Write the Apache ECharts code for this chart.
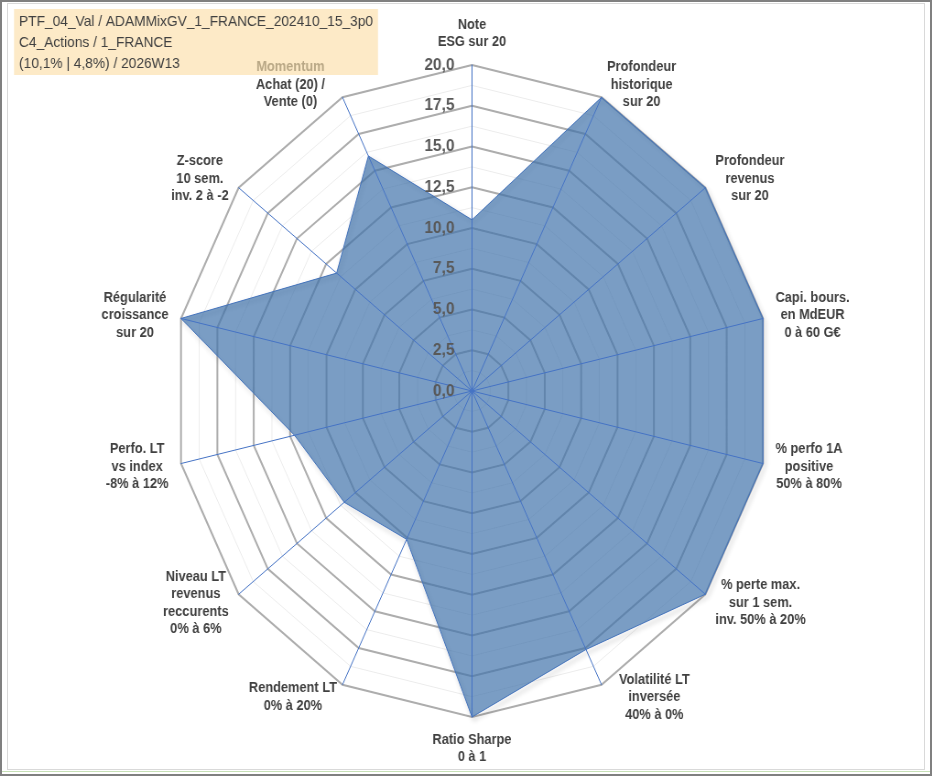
<!DOCTYPE html>
<html lang="fr">
<head>
<meta charset="utf-8">
<title>Radar PTF_04_Val</title>
<script src="https://cdn.jsdelivr.net/npm/echarts@6/dist/echarts.min.js"></script>
<style>
  html, body { margin: 0; padding: 0; background: #fff; }
  #frame { position: relative; width: 932px; height: 776px; overflow: hidden; background: #fff; }
  #chart { position: absolute; left: 0; top: 0; height: 776px; transform-origin: 0 0; }
  .inner { position: absolute; left: 7px; top: 3px; width: 918px; height: 767px; box-sizing: border-box; border: 1px solid #d9d9d9; pointer-events: none; }
  .green { position: absolute; left: 0; top: 771px; width: 932px; height: 1px; background: #c6dfb6; }
  .outer { position: absolute; left: 0; top: 0; width: 932px; height: 776px; box-sizing: border-box; border: 2px solid #808080; pointer-events: none; }
</style>
</head>
<body>
<div id="frame">
  <div id="chart"></div>
  <div class="inner"></div>
  <div class="green"></div>
  <div class="outer"></div>
</div>
<script>
// axes in the order they appear, clockwise from the top
const axisNames = [
  'Note\nESG sur 20',
  'Profondeur\nhistorique\nsur 20',
  'Profondeur\nrevenus\nsur 20',
  'Capi. bours.\nen MdEUR\n0 à 60 G€',
  '% perfo 1A\npositive\n50% à 80%',
  '% perte max.\nsur 1 sem.\ninv. 50% à 20%',
  'Volatilité LT\ninversée\n40% à 0%',
  'Ratio Sharpe\n0 à 1',
  'Rendement LT\n0% à 20%',
  'Niveau LT\nrevenus\nreccurents\n0% à 6%',
  'Perfo. LT\nvs index\n-8% à 12%',
  'Régularité\ncroissance\nsur 20',
  'Z-score\n10 sem.\ninv. 2 à -2',
  'Momentum\nAchat (20) /\nVente (0)'
];
const scores = [10.5, 20, 20, 20, 20, 20, 17.6, 20, 10.1, 10.95, 12.2, 20, 11.6, 16];
const axisMax = 20;
const titleLines = [
  'PTF_04_Val / ADAMMixGV_1_FRANCE_202410_15_3p0',
  'C4_Actions / 1_FRANCE',
  '(10,1% | 4,8%) / 2026W13'
];

// the source plot is an ellipse: draw a circle and squeeze it horizontally
const SCALE_X = 298.5 / 326;
const FONT = '"Liberation Sans", Arial, sans-serif';
const cx = 472 / SCALE_X;

// extra horizontal push for a few names (index in axisNames -> padding)
const namePadding = { 6: [0, 0, 0, 13], 13: [0, 13, 0, 0] };

const el = document.getElementById('chart');
el.style.width = Math.round(932 / SCALE_X) + 'px';
el.style.transform = 'scaleX(' + SCALE_X + ')';

// echarts radar runs counter-clockwise, so reverse everything after the first axis
const order = [0].concat(axisNames.map((_, i) => i).slice(1).reverse());

const majorIndicators = order.map((i, k) => {
  const ind = { name: axisNames[i], min: 0, max: axisMax };
  if (k === 0) ind.axisLabel = { show: true };
  if (namePadding[i]) ind.nameTextStyle = { padding: namePadding[i] };
  return ind;
});
const minorIndicators = order.map(() => ({ name: '', min: 0, max: axisMax }));

const nameStyle = {
  fontFamily: FONT, fontSize: 14, fontWeight: 'bold', lineHeight: 17.5, align: 'center'
};

const chart = echarts.init(el, null, { renderer: 'canvas' });
chart.setOption({
  animation: false,
  backgroundColor: 'transparent',
  title: {
    z: 0,
    text: titleLines.join('\n'),
    left: 14 / SCALE_X,
    top: 9,
    padding: [2, 0, 1, 5.5],
    backgroundColor: '#fdeac7',
    textStyle: {
      fontFamily: FONT, fontSize: 15, fontWeight: 'normal', color: '#404040',
      lineHeight: 21, width: 392
    }
  },
  radar: [
    {
      // fine grid every 1,25
      z: 2,
      center: [cx, 391],
      radius: 326,
      startAngle: 90,
      shape: 'polygon',
      splitNumber: 16,
      indicator: minorIndicators,
      axisName: { show: false },
      axisLine: { show: false },
      axisTick: { show: false },
      axisLabel: { show: false },
      splitArea: { show: false },
      splitLine: { lineStyle: { color: '#ececec', width: 1 } }
    },
    {
      z: 2,
      center: [cx, 391],
      radius: 326,
      startAngle: 90,
      shape: 'polygon',
      splitNumber: 8,
      nameGap: 14,
      indicator: majorIndicators,
      axisName: {
        color: '#404040',
        fontFamily: FONT,
        fontSize: 14,
        fontWeight: 'bold',
        lineHeight: 17.5,
        formatter: name => name.split('\n')
          .map(l => (l === 'Momentum' ? '{m|' : '{c|') + l + '}')
          .join('\n'),
        rich: {
          c: Object.assign({ color: '#404040' }, nameStyle),
          m: Object.assign({ color: '#b9a886' }, nameStyle)
        }
      },
      axisLine: { lineStyle: { color: '#4472c4', width: 1 } },
      axisTick: { show: false },
      axisLabel: {
        show: false,
        color: '#595959',
        fontFamily: FONT,
        fontSize: 17,
        fontWeight: 'bold',
        margin: 19,
        formatter: v => Number(v).toFixed(1).replace('.', ',')
      },
      splitArea: { show: false },
      splitLine: { lineStyle: { color: '#adadad', width: 2 } }
    }
  ],
  series: [{
    type: 'radar',
    radarIndex: 1,
    symbol: 'none',
    silent: true,
    lineStyle: {
      color: '#4472c4', width: 1,
      shadowColor: 'rgba(0,0,0,0.45)', shadowBlur: 5, shadowOffsetX: 2, shadowOffsetY: 3
    },
    areaStyle: { color: 'rgba(65,115,171,0.7)', opacity: 1 },
    data: [{ name: 'Score', value: order.map(i => scores[i]) }]
  }]
});
</script>
</body>
</html>
